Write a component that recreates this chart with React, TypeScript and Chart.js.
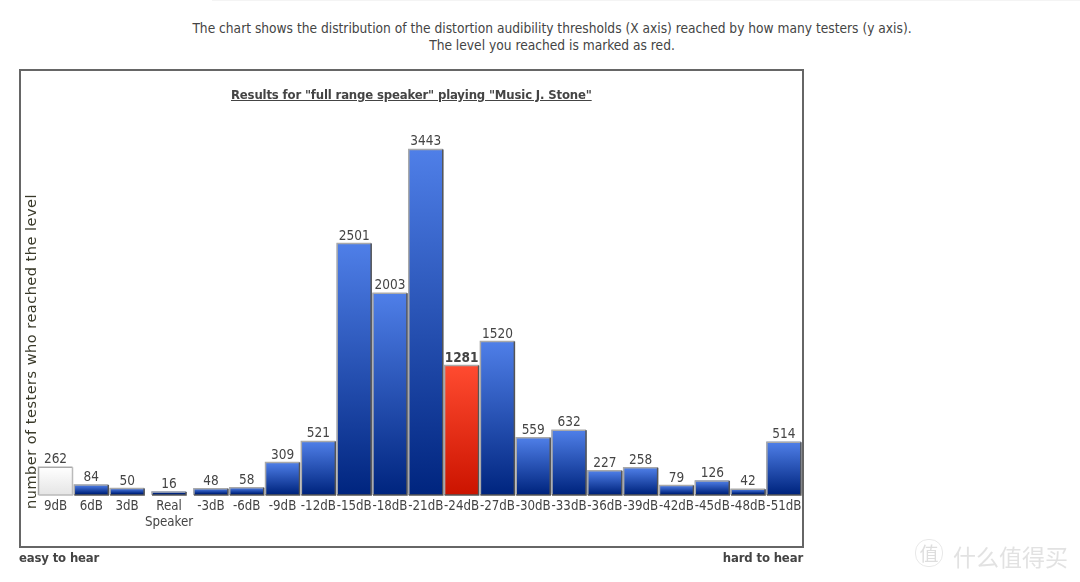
import React, { useEffect, useRef } from "react";
import { Chart, registerables } from "chart.js";

Chart.register(...registerables);

const categories = ["9dB","6dB","3dB",["Real","Speaker"],"-3dB","-6dB","-9dB","-12dB","-15dB","-18dB","-21dB","-24dB","-27dB","-30dB","-33dB","-36dB","-39dB","-42dB","-45dB","-48dB","-51dB"];
const testers = [262,84,50,16,48,58,309,521,2501,2003,3443,1281,1520,559,632,227,258,79,126,42,514];
const slotGap = 0.17;
const slots = categories.map((_, i) => i + (i >= 3 ? slotGap : 0) + (i >= 4 ? slotGap : 0));
const yourLevel = "-24dB";
const noGradeLevel = "9dB";
const yTitle = "number of testers who reached the level";

const FONT = '"DejaVu Sans Condensed", "DejaVu Sans", sans-serif';
const TEXT = "#444";

function fill(ctx: any) {
  const chart = ctx.chart;
  const i = ctx.dataIndex;
  const yScale = chart.scales.y;
  if (i === undefined || !yScale) return "#2a56c0";
  const top = yScale.getPixelForValue(testers[i]);
  const base = yScale.getPixelForValue(0);
  if (!Number.isFinite(top) || !Number.isFinite(base)) return "#2a56c0";
  const g = chart.ctx.createLinearGradient(0, top, 0, base);
  const label = categories[i];
  if (label === yourLevel) {
    g.addColorStop(0, "#ff4b30");
    g.addColorStop(1, "#cc1400");
  } else if (label === noGradeLevel) {
    g.addColorStop(0, "#ffffff");
    g.addColorStop(1, "#e6e6e6");
  } else {
    g.addColorStop(0, "#4f7fe8");
    g.addColorStop(1, "#00257f");
  }
  return g;
}

const decorate = {
  id: "decorate",
  afterDatasetsDraw(chart: any) {
    const { ctx } = chart;
    chart.getDatasetMeta(0).data.forEach((bar: any, i: number) => {
      const { x, y, base, width } = bar.getProps(["x", "y", "base", "width"], true);
      const l = x - width / 2;
      const r = x + width / 2;
      const b = base + 1.5;
      // the bar's body continues down to the bevel
      ctx.save();
      ctx.fillStyle = categories[i] === yourLevel ? "#cc1400" : categories[i] === noGradeLevel ? "#e6e6e6" : "#00257f";
      ctx.fillRect(l, base - 0.5, width, 2);
      ctx.lineWidth = 1.5;
      ctx.strokeStyle = "#a9a9a9";
      ctx.beginPath();
      ctx.moveTo(l, b);
      ctx.lineTo(l, y);
      ctx.lineTo(r, y);
      ctx.stroke();
      ctx.strokeStyle = categories[i] === noGradeLevel ? "#bbb" : "#555";
      ctx.beginPath();
      ctx.moveTo(r, y);
      ctx.lineTo(r, b);
      ctx.lineTo(l, b);
      ctx.stroke();
      const bold = categories[i] === yourLevel;
      ctx.fillStyle = TEXT;
      ctx.font = `${bold ? "bold " : ""}13.5px ${FONT}`;
      ctx.textAlign = "center";
      ctx.textBaseline = "alphabetic";
      ctx.fillText(String(testers[i]), x, y - 4);
      ctx.restore();
    });
    const yScale = chart.scales.y;
    ctx.save();
    ctx.translate(36, yScale.getPixelForValue(0) - 142);
    ctx.rotate(-Math.PI / 2);
    ctx.fillStyle = "#3a3a2a";
    ctx.font = `14.5px "DejaVu Sans", sans-serif`;
    (ctx as any).letterSpacing = "0.5px";
    ctx.textAlign = "center";
    ctx.textBaseline = "alphabetic";
    ctx.fillText(yTitle, 0, 0);
    ctx.restore();
  },
};

const abs = (s: React.CSSProperties): React.CSSProperties => ({ position: "absolute", whiteSpace: "nowrap", ...s });

export default function App() {
  const ref = useRef<HTMLCanvasElement>(null);
  useEffect(() => {
    const chart = new Chart(ref.current!, {
      type: "bar",
      data: {
        datasets: [
          {
            data: testers.map((y, i) => ({ x: slots[i], y })),
            backgroundColor: fill,
            barThickness: 34,
            borderWidth: 0,
          },
        ],
      },
      options: {
        animation: false,
        responsive: false,
        layout: { padding: { left: 37.6, right: 278.2, top: 113.8, bottom: 0 } },
        plugins: { legend: { display: false }, tooltip: { enabled: false } },
        scales: {
          x: {
            type: "linear",
            offset: false,
            min: -0.5,
            max: slots[slots.length - 1] + 0.5,
            grid: { display: false, drawTicks: false },
            border: { display: false },
            afterBuildTicks: (axis: any) => {
              axis.ticks = slots.map((value) => ({ value }));
            },
            afterFit: (axis: any) => {
              axis.height = 88.5;
              axis.paddingLeft = 0;
              axis.paddingRight = 0;
            },
            ticks: {
              autoSkip: false,
              maxRotation: 0,
              minRotation: 0,
              padding: 5,
              color: TEXT,
              font: { family: FONT, size: 13.2 },
              callback: (v: any) => {
                const i = slots.indexOf(v);
                return i >= 0 ? (categories[i] as any) : "";
              },
            },
          },
          y: { display: false, min: 0, max: 3800 },
        },
      },
      plugins: [decorate],
    } as any);
    return () => chart.destroy();
  }, []);
  const txt: React.CSSProperties = { fontFamily: FONT, fontSize: 13.65, color: TEXT };
  const strong: React.CSSProperties = { fontFamily: FONT, fontSize: 13, letterSpacing: -0.16, color: TEXT, fontWeight: 700 };
  return (
    <div style={{ position: "absolute", left: 0, top: 0, width: 1080, height: 582, overflow: "hidden", background: "#fff" }}>
      <div style={abs({ left: 212, top: 0, width: 868, height: 1, background: "#f4f4f4" })} />
      <div style={abs({ ...txt, left: 0, width: 1104, top: 20, textAlign: "center", lineHeight: "17px" })}>
        The chart shows the distribution of the distortion audibility thresholds (X axis) reached by how many testers (y axis).
        <br />
        The level you reached is marked as red.
      </div>
      <div style={abs({ left: 19, top: 69, width: 781, height: 475, border: "2px solid #666" })} />
      <canvas ref={ref} width={1080} height={582} style={{ position: "absolute", left: 0, top: 0, display: "block" }} />
      <div style={abs({ ...strong, left: 231, top: 87, textDecoration: "underline" })}>
        Results for "full range speaker" playing "Music J. Stone"
      </div>
      <div style={abs({ ...strong, left: 19, top: 550 })}>easy to hear</div>
      <div style={abs({ ...strong, right: 277, top: 550 })}>hard to hear</div>
      <div style={abs({ left: 915, top: 539, width: 26, height: 26, borderRadius: 13, border: "1px solid #e8e8e8", fontFamily: '"Noto Sans CJK SC"', fontSize: 19, lineHeight: "26px", textAlign: "center", color: "#dedede" })}>值</div>
      <div style={abs({ left: 953, top: 542, fontFamily: '"Noto Sans CJK SC"', fontSize: 23, lineHeight: "28px", color: "#e2e2e2" })}>什么值得买</div>
    </div>
  );
}
